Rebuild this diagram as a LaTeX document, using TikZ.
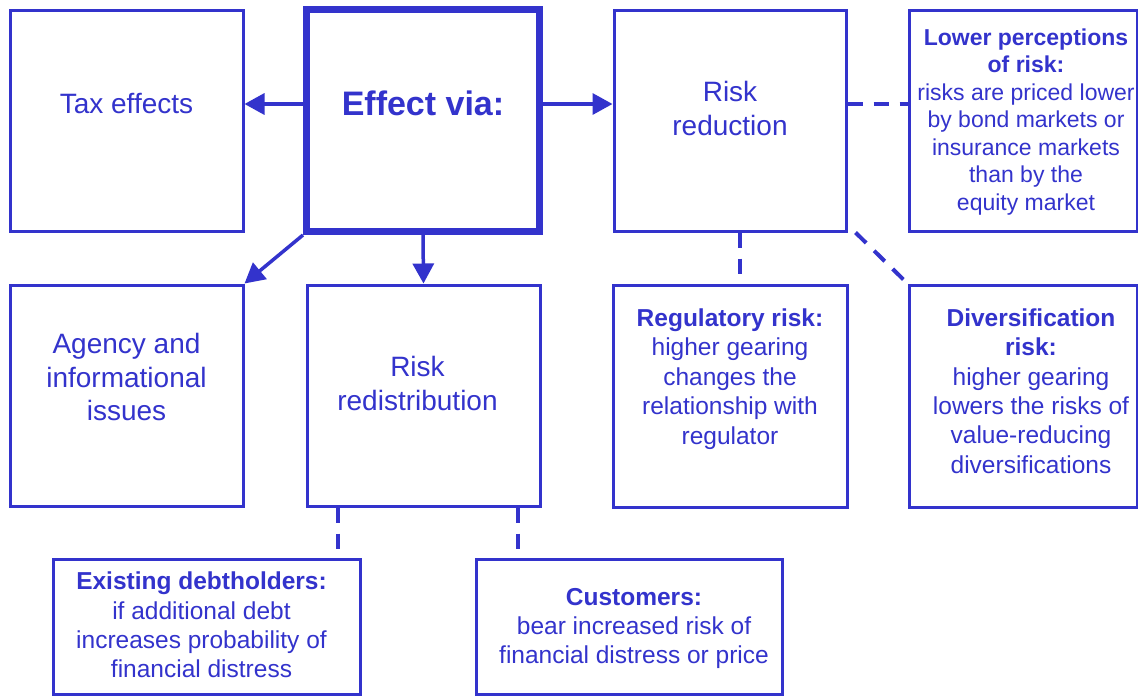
\documentclass[tikz,border=0pt]{standalone}
\usepackage{fontspec}
\setmainfont{Liberation Sans}
\usetikzlibrary{arrows.meta}
\definecolor{dblue}{RGB}{51,51,204}
\tikzset{
  box/.style={draw=dblue, line width=3pt, inner sep=0pt, fill=white},
  thickbox/.style={draw=dblue, line width=7pt, inner sep=0pt, fill=white},
  txt/.style={text=dblue, align=center, inner sep=0pt},
  big/.style={font=\fontsize{28}{33.6}\selectfont},
  small/.style={font=\fontsize{24.5}{29.4}\selectfont},
  smaller/.style={font=\fontsize{23}{27.5}\selectfont},
  arr/.style={draw=dblue, line width=3.5pt, -{Triangle[length=20pt,width=21pt]}},
  dash line/.style={draw=dblue, line width=4pt, dash pattern=on 15pt off 11pt},
}
\begin{document}
\begin{tikzpicture}[x=1pt,y=-1pt]
\useasboundingbox (0,0) rectangle (1138,697);
% boxes
\node[box, minimum width=233pt, minimum height=221pt] (tax) at (126.5,120.5) {};
\node[thickbox, minimum width=233pt, minimum height=222.5pt] (effect) at (423,120.25) {};
\node[box, minimum width=232pt, minimum height=221pt] (riskred) at (730,120.5) {};
\node[box, minimum width=228pt, minimum height=221pt] (lower) at (1023,120.5) {};
\node[box, minimum width=233pt, minimum height=221pt] (agency) at (126.5,395.5) {};
\node[box, minimum width=233pt, minimum height=221pt] (redist) at (423.5,395.5) {};
\node[box, minimum width=234pt, minimum height=222pt] (reg) at (730,396) {};
\node[box, minimum width=228pt, minimum height=222pt] (divers) at (1023,396) {};
\node[box, minimum width=307pt, minimum height=135pt] (existing) at (206.5,626.5) {};
\node[box, minimum width=306pt, minimum height=135pt] (customers) at (629,626.5) {};
% texts
\node[txt, big] (taxT) at (126.5,104) {Tax effects};
\node[txt, font=\bfseries\fontsize{34}{40}\selectfont] (effectT) at (423,103) {Effect via:};
\node[txt, big] (riskredT) at (730,108.5) {Risk\\reduction};
\node[txt, smaller] (lowerT) at (1026,122) {\textbf{Lower perceptions}\\\textbf{of risk:}\\risks are priced lower\\by bond markets or\\insurance markets\\than by the\\equity market};
\node[txt, big] (agencyT) at (126.5,377) {Agency and\\informational\\issues};
\node[txt, big] (redistT) at (417.5,383.5) {Risk\\redistribution};
\node[txt, small] (regT) at (730,379) {\textbf{Regulatory risk:}\\higher gearing\\changes the\\relationship with\\regulator};
\node[txt, small] (diversT) at (1031,391) {\textbf{Diversification}\\\textbf{risk:}\\higher gearing\\lowers the risks of\\value-reducing\\diversifications};
\node[txt, small] (existingT) at (201.5,625) {\textbf{Existing debtholders:}\\if additional debt\\increases probability of\\financial distress};
\node[txt, small] (customersT) at (634,628.5) {\textbf{Customers:}\\bear increased risk of\\financial distress or price};
% arrows
\draw[arr] (effect.west |- taxT) -- (tax.east |- taxT);
\draw[arr] (effect.east |- taxT) -- (riskred.west |- taxT);
\draw[arr] (effect.south) -- (redist.north);
\draw[arr] (effect.south west) -- (agency.north east);
% dashed connectors
\draw[dash line] (riskred.east |- taxT) -- (lower.west |- taxT);
\draw[dash line] ([xshift=10pt]riskred.south) -- ([xshift=10pt]reg.north);
\draw[dash line] ([xshift=8pt]riskred.south east) -- (divers.north west);
\draw[dash line] ([xshift=-85.5pt]redist.south) -- ([xshift=131.5pt]existing.north);
\draw[dash line] ([xshift=94pt]redist.south) -- ([xshift=-111.5pt]customers.north);
\end{tikzpicture}
\end{document}
